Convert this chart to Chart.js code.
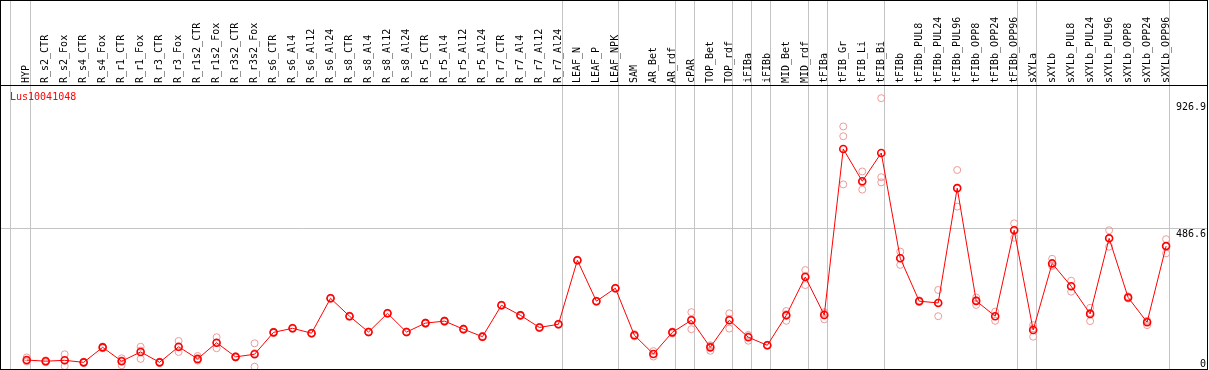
<!DOCTYPE html>
<html>
<head>
<meta charset="utf-8">
<script src="https://cdn.jsdelivr.net/npm/chart.js@4/dist/chart.umd.min.js"></script>
<style>
  body { margin: 0; background: #fff; }
</style>
</head>
<body>
<canvas id="chart" width="1209" height="370"></canvas>
<script>
const geneName = "Lus10041048";

const categories = [
  "HYP", "R_s2_CTR", "R_s2_Fox", "R_s4_CTR", "R_s4_Fox", "R_r1_CTR", "R_r1_Fox",
  "R_r3_CTR", "R_r3_Fox", "R_r1s2_CTR", "R_r1s2_Fox", "R_r3s2_CTR", "R_r3s2_Fox",
  "R_s6_CTR", "R_s6_Al4", "R_s6_Al12", "R_s6_Al24", "R_s8_CTR", "R_s8_Al4",
  "R_s8_Al12", "R_s8_Al24", "R_r5_CTR", "R_r5_Al4", "R_r5_Al12", "R_r5_Al24",
  "R_r7_CTR", "R_r7_Al4", "R_r7_Al12", "R_r7_Al24", "LEAF_N", "LEAF_P", "LEAF_NPK",
  "SAM", "AR_Bet", "AR_rdf", "cPAR", "TOP_Bet", "TOP_rdf", "iFIBa", "iFIBb",
  "MID_Bet", "MID_rdf", "tFIBa", "tFIB_Gr", "tFIB_Li", "tFIB_Bi", "tFIBb",
  "tFIBb_PUL8", "tFIBb_PUL24", "tFIBb_PUL96", "tFIBb_OPP8", "tFIBb_OPP24", "tFIBb_OPP96",
  "sXYLa", "sXYLb", "sXYLb_PUL8", "sXYLb_PUL24", "sXYLb_PUL96", "sXYLb_OPP8",
  "sXYLb_OPP24", "sXYLb_OPP96"
];

// mean expression per sample
const meanValues = [
  29, 25, 28, 21, 73, 25, 57, 21, 75, 33, 89, 40, 49,
  125, 139, 122, 243, 181, 126, 191, 126, 157, 164, 136, 110,
  219, 184, 142, 153, 375, 233, 278,
  115, 50, 125, 167, 73, 167, 108, 80, 184, 317, 185,
  761, 649, 747, 382, 233, 227, 625, 234, 181, 479,
  133, 364, 285, 189, 451, 246, 160, 424
];

// replicates
const rep1 = [
  38, 28, 49, 23, 76, 35, 75, 23, 95, 43, 108, 42, 87,
  127, 141, 124, 245, 183, 128, 193, 128, 159, 166, 138, 112,
  221, 186, 144, 155, 377, 235, 280,
  119, 60, 128, 195, 78, 191, 116, 82, 199, 341, 190,
  839, 683, 937, 405, 236, 272, 688, 246, 197, 503,
  150, 380, 304, 210, 479, 250, 150, 448
];
const rep2 = [
  24, 21, 8, 19, 70, 11, 33, 19, 57, 27, 70, 38, 6,
  123, 137, 120, 241, 179, 124, 189, 124, 155, 162, 134, 108,
  217, 182, 140, 151, 373, 231, 276,
  111, 41, 121, 136, 61, 138, 96, 78, 165, 289, 170,
  805, 620, 663, 359, 230, 181, 561, 220, 165, 453,
  110, 355, 266, 164, 422, 242, 165, 399
];
const rep3 = [
  26, 25, 27, 21, 73, 28, 62, 21, 73, 30, 89, 40, 53,
  125, 139, 122, 243, 181, 126, 191, 126, 157, 164, 136, 110,
  219, 184, 142, 153, 375, 233, 278,
  115, 50, 125, 170, 80, 172, 112, 80, 188, 321, 195,
  638, 645, 645, 382, 233, 228, 626, 236, 181, 481,
  139, 357, 285, 193, 452, 246, 165, 425
];

// group separators (vertical grey lines)
const separators = [-0.84, 0.19, 28.19, 31.19, 34.19, 35.19, 37.19, 38.19, 39.19,
  41.19, 42.19, 45.19, 52.17, 53.17, 60.16];

const yLabels = [926.9, 486.6, 0];
const yGridValue = 486.6;

const toPoints = (arr) => arr.map((v, i) => ({ x: i, y: v }));

const repColor = "#ee9999";
const FONT = { family: "DejaVu Sans Mono", size: 10 };

const framePlugin = {
  id: "frame",
  afterDraw(chart) {
    const ctx = chart.ctx;
    const area = chart.chartArea;
    const yScale = chart.scales.y;
    ctx.save();
    ctx.strokeStyle = "#000";
    ctx.lineWidth = 1;
    ctx.strokeRect(0.5, 0.5, 1207, 369);
    ctx.beginPath();
    ctx.moveTo(0, 85.5);
    ctx.lineTo(1208, 85.5);
    ctx.stroke();

    ctx.font = "10px 'DejaVu Sans Mono'";
    ctx.fillStyle = "#000";
    ctx.textAlign = "right";
    ctx.textBaseline = "top";
    yLabels.forEach((v) => {
      const py = yScale.getPixelForValue(v);
      const ty = Math.min(py + 1, area.bottom - 10);
      ctx.fillText(String(v), 1206, ty);
    });

    ctx.fillStyle = "#ff0000";
    ctx.textAlign = "left";
    ctx.fillText(geneName, 10, 92);
    ctx.restore();
  },
};

new Chart(document.getElementById("chart").getContext("2d"), {
  type: "line",
  data: {
    datasets: [
      {
        label: "mean",
        data: toPoints(meanValues),
        borderColor: "#ff0000",
        borderWidth: 1,
        pointStyle: "circle",
        pointRadius: 3.5,
        pointBorderWidth: 1.6,
        pointBorderColor: "#ff0000",
        pointBackgroundColor: "rgba(0,0,0,0)",
        tension: 0,
      },
      {
        label: "rep1",
        data: toPoints(rep1),
        showLine: false,
        pointRadius: 3.5,
        pointBorderWidth: 1,
        pointBorderColor: repColor,
        pointBackgroundColor: "rgba(0,0,0,0)",
      },
      {
        label: "rep2",
        data: toPoints(rep2),
        showLine: false,
        pointRadius: 3.5,
        pointBorderWidth: 1,
        pointBorderColor: repColor,
        pointBackgroundColor: "rgba(0,0,0,0)",
      },
      {
        label: "rep3",
        data: toPoints(rep3),
        showLine: false,
        pointRadius: 3.5,
        pointBorderWidth: 1,
        pointBorderColor: repColor,
        pointBackgroundColor: "rgba(0,0,0,0)",
      },
    ],
  },
  options: {
    responsive: false,
    animation: false,
    layout: { autoPadding: false, padding: { left: 1, right: 2, top: 0, bottom: 1 } },
    plugins: {
      legend: { display: false },
      tooltip: { enabled: false },
      title: { display: false },
    },
    scales: {
      x: {
        type: "linear",
        position: "top",
        weight: 10,
        min: -1.353,
        max: 62.154,
        afterBuildTicks: (scale) => {
          scale.ticks = categories.map((c, i) => ({ value: i }));
        },
        afterFit: (scale) => {
          scale.height = 85;
          scale.paddingLeft = 0;
          scale.paddingRight = 0;
        },
        grid: { display: false, drawTicks: false },
        border: { display: false },
        ticks: {
          autoSkip: false,
          minRotation: 90,
          maxRotation: 90,
          padding: 2,
          labelOffset: 12,
          color: "#000",
          font: FONT,
          callback: (value) => categories[value],
        },
      },
      x2: {
        type: "linear",
        position: "top",
        weight: 0,
        min: -1.353,
        max: 62.154,
        afterBuildTicks: (scale) => {
          scale.ticks = separators.map((v) => ({ value: v }));
        },
        afterFit: (scale) => {
          scale.height = 0;
          scale.paddingLeft = 0;
          scale.paddingRight = 0;
        },
        grid: { color: "#c4c4c4", lineWidth: 1, drawTicks: true, tickLength: 85 },
        border: { display: false },
        ticks: { display: false },
      },
      y: {
        type: "linear",
        position: "right",
        min: -2.1,
        max: 982.7,
        afterBuildTicks: (scale) => {
          scale.ticks = yLabels.map((v) => ({ value: v }));
        },
        afterFit: (scale) => {
          scale.width = 0;
          scale.paddingTop = 0;
          scale.paddingBottom = 0;
        },
        grid: {
          drawTicks: false,
          color: (ctx) => (ctx.tick && ctx.tick.value === yGridValue ? "#c4c4c4" : "rgba(0,0,0,0)"),
        },
        border: { display: false },
        ticks: { display: false },
      },
    },
  },
  plugins: [framePlugin],
});
</script>
</body>
</html>
